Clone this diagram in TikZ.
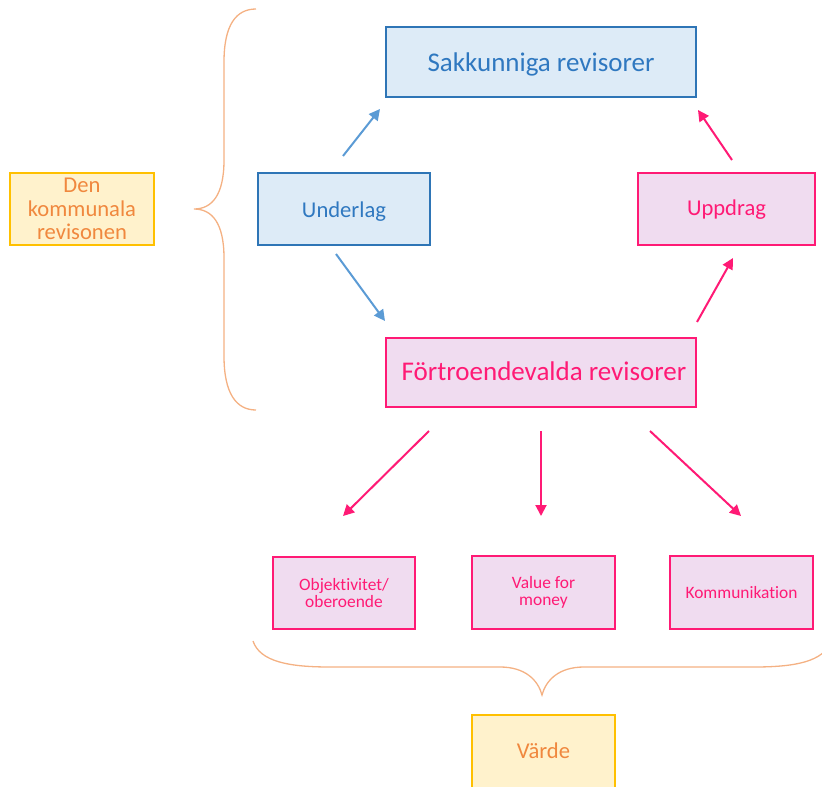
\documentclass[tikz,border=0pt]{standalone}
\usepackage{fontspec}
\setmainfont{Carlito}[Ligatures=NoCommon]
\usetikzlibrary{arrows.meta}
\definecolor{bfill}{HTML}{DDEBF7}
\definecolor{bdraw}{HTML}{2E75B6}
\definecolor{btext}{HTML}{2F78C0}
\definecolor{barrow}{HTML}{5B9BD5}
\definecolor{pfill}{HTML}{F0DCF0}
\definecolor{pdraw}{HTML}{FF1A75}
\definecolor{ptext}{HTML}{FF1A75}
\definecolor{yfill}{HTML}{FFF2CC}
\definecolor{ydraw}{HTML}{FFC000}
\definecolor{ytext}{HTML}{F0883E}
\definecolor{brace}{HTML}{F4B183}
\begin{document}
\begin{tikzpicture}[x=1pt,y=-1pt,
  box/.style={draw,line width=2pt,inner sep=0pt,align=center},
  bluebox/.style={box,fill=bfill,draw=bdraw,text=btext},
  pinkbox/.style={box,fill=pfill,draw=pdraw,text=ptext},
  yellowbox/.style={box,fill=yfill,draw=ydraw,text=ytext},
  bigfont/.style={font=\fontsize{27}{30}\selectfont},
  midfont/.style={font=\fontsize{22.6}{23.5}\selectfont},
  smallfont/.style={font=\fontsize{17.4}{17.3}\selectfont},
  bluearrow/.style={draw=barrow,line width=2pt,-{Triangle[length=11pt,width=11pt]}},
  pinkarrow/.style={draw=pdraw,line width=2pt,-{Triangle[length=11pt,width=11pt]}},
  bracestyle/.style={draw=brace,line width=1.3pt}
]
\useasboundingbox (0,0) rectangle (822,787);

\node[bluebox,bigfont,minimum width=310pt,minimum height=70pt,text height=23pt,text depth=4pt] (sak) at (541,62) {Sakkunniga revisorer};
\node[bluebox,midfont,minimum width=172pt,minimum height=72pt,text height=19.4pt,text depth=3.4pt] (und) at (344,209) {Underlag};
\node[pinkbox,midfont,minimum width=177pt,minimum height=72pt,text height=15.4pt,text depth=3.4pt] (upp) at (726.5,209) {Uppdrag};
\node[pinkbox,bigfont,minimum width=310pt,minimum height=69pt,text height=21pt,text depth=5.4pt] (fort) at (541,372.5) {\hspace{6pt}Förtroendevalda revisorer};
\node[yellowbox,midfont,minimum width=144pt,minimum height=72pt] (den) at (82,209) {Den\\kommunala\\revisonen};
\node[pinkbox,smallfont,minimum width=142pt,minimum height=72pt] (obj) at (344,593) {Objektivitet/\\oberoende};
\node[pinkbox,smallfont,minimum width=143pt,minimum height=73pt] (val) at (543.5,592.5) {Value for\\money};
\node[pinkbox,smallfont,minimum width=143pt,minimum height=73pt,text height=13.6pt,text depth=2.6pt] (kom) at (741.5,592.5) {Kommunikation};
\node[yellowbox,midfont,minimum width=143pt,minimum height=73pt,text height=17.4pt,text depth=3.4pt] (var) at (543.5,751.5) {Värde};

\path[bluearrow] ([shift={(-1,-16)}]und.north) -- ([shift={(-5,11)}]sak.south west);
\path[bluearrow] ([shift={(-8,8)}]und.south) -- ([shift={(0,-16)}]fort.north west);
\path[pinkarrow] ([shift={(0,-15)}]fort.north east) -- ([shift={(6.5,12)}]upp.south);
\path[pinkarrow] ([shift={(5.5,-12)}]upp.north) -- ([shift={(1,12)}]sak.south east);
\path[pinkarrow] ([shift={(-112,23)}]fort.south) -- ([shift={(-1,-40)}]obj.north);
\path[pinkarrow] ([shift={(0,23)}]fort.south) -- ([shift={(-2.5,-39)}]val.north);
\path[pinkarrow] ([shift={(109,23)}]fort.south) -- ([shift={(-0.5,-39)}]kom.north);

\draw[bracestyle] (256,9) .. controls (236,9) and (224,25) .. (224,62) -- (224,160)
  .. controls (224,195) and (212,209) .. (194,209)
  .. controls (212,209) and (224,223) .. (224,258) -- (224,356)
  .. controls (224,393) and (236,410) .. (256,410);

\draw[bracestyle] (253,641) .. controls (260,662) and (290,667) .. (330,667) -- (500,667)
  .. controls (525,667) and (538,680) .. (542,695)
  .. controls (546,680) and (559,667) .. (584,667) -- (754,667)
  .. controls (794,667) and (824,662) .. (831,641);
\end{tikzpicture}
\end{document}
